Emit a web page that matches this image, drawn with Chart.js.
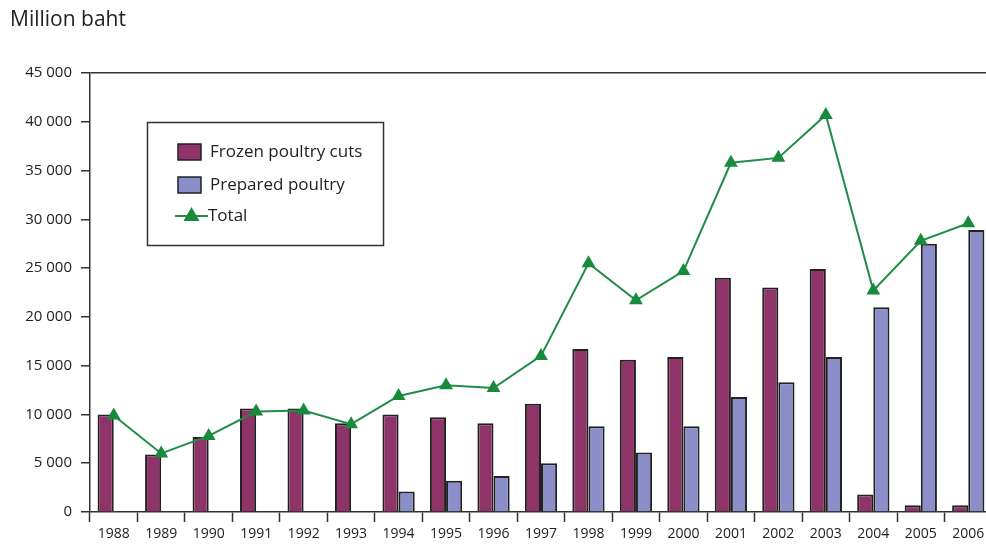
<!DOCTYPE html>
<html>
<head>
<meta charset="utf-8">
<script src="https://cdn.jsdelivr.net/npm/chart.js@4/dist/chart.umd.min.js"></script>
<style>
  html, body { margin: 0; padding: 0; background: #fff; overflow: hidden; }
  #wrap { width: 1000px; height: 548px; }
</style>
</head>
<body>
<div id="wrap"><canvas id="myChart"></canvas></div>
<script>
/* globals Chart:false */

// values, million baht
var years = ['1988', '1989', '1990', '1991', '1992', '1993', '1994', '1995', '1996', '1997',
  '1998', '1999', '2000', '2001', '2002', '2003', '2004', '2005', '2006'];
var frozenCuts = [10000, 5900, 7700, 10600, 10600, 9100, 10000, 9700, 9100, 11100,
  16700, 15600, 15900, 24000, 23000, 24900, 1800, 700, 700];
var preparedPoultry = [0, 0, 0, 0, 0, 0, 2100, 3200, 3700, 5000,
  8800, 6100, 8800, 11800, 13300, 15900, 21000, 27500, 28900];
var totals = [9900, 6000, 7800, 10300, 10400, 9000, 11900, 13000, 12700, 16000,
  25500, 21700, 24700, 35800, 36300, 40700, 22700, 27800, 29600];

var axisColor = '#333';
var textColor = '#222';
var fontFamily = '"Open Sans", sans-serif';

// legend drawn as a boxed panel inside the plot
var boxLegend = {
  id: 'boxLegend',
  afterDraw: function (chart) {
    var ctx = chart.ctx;
    var ds = chart.data.datasets;
    ctx.save();
    ctx.strokeStyle = axisColor;
    ctx.lineWidth = 1.5;
    ctx.strokeRect(147.5, 122.5, 236, 123);

    ctx.font = '17px ' + fontFamily;
    ctx.textBaseline = 'middle';
    ctx.textAlign = 'left';

    var rows = [152, 185, 216];
    for (var i = 0; i < 2; i++) {
      ctx.fillStyle = ds[i].backgroundColor;
      ctx.fillRect(178, rows[i] - 8, 23, 16);
      ctx.strokeStyle = ds[i].borderColor;
      ctx.lineWidth = 1.5;
      ctx.strokeRect(178, rows[i] - 8, 23, 16);
      ctx.fillStyle = textColor;
      ctx.fillText(ds[i].label, 210, rows[i]);
    }

    var y = rows[2];
    ctx.strokeStyle = ds[2].borderColor;
    ctx.lineWidth = 2;
    ctx.beginPath();
    ctx.moveTo(175, y);
    ctx.lineTo(208, y);
    ctx.stroke();
    ctx.fillStyle = ds[2].pointBackgroundColor;
    ctx.beginPath();
    ctx.moveTo(191.5, y - 9);
    ctx.lineTo(199.5, y + 5);
    ctx.lineTo(183.5, y + 5);
    ctx.closePath();
    ctx.fill();
    ctx.fillStyle = textColor;
    ctx.fillText(ds[2].label, 208, y);
    ctx.restore();
  }
};

var ctx = document.getElementById('myChart');
var myChart = new Chart(ctx, {
  type: 'bar',
  data: {
    labels: years,
    datasets: [{
      label: 'Frozen poultry cuts',
      data: frozenCuts,
      backgroundColor: '#8f3468',
      borderColor: '#222',
      borderWidth: 2,
      categoryPercentage: 0.68,
      barPercentage: 1.0,
      order: 1
    }, {
      label: 'Prepared poultry',
      data: preparedPoultry,
      backgroundColor: '#8b8ec8',
      borderColor: '#222',
      borderWidth: 2,
      categoryPercentage: 0.68,
      barPercentage: 1.0,
      order: 1
    }, {
      type: 'line',
      label: 'Total',
      data: totals,
      borderColor: '#218c47',
      borderWidth: 2,
      pointStyle: 'triangle',
      pointRadius: 8,
      pointBackgroundColor: '#178a3c',
      pointBorderColor: '#178a3c',
      pointBorderWidth: 0,
      tension: 0,
      order: 0
    }]
  },
  options: {
    responsive: true,
    maintainAspectRatio: false,
    animation: false,
    layout: { padding: { left: 10, right: 4, top: 0, bottom: 0 } },
    scales: {
      x: {
        offset: true,
        grid: {
          offset: true,
          drawOnChartArea: false,
          drawTicks: true,
          tickLength: 10,
          tickColor: axisColor,
          tickWidth: 1.5
        },
        border: { color: axisColor, width: 1.5 },
        ticks: {
          color: textColor,
          font: { family: fontFamily, size: 14 },
          padding: 4,
          maxRotation: 0,
          autoSkip: false
        },
        afterFit: function (scale) { scale.height = 36; }
      },
      y: {
        min: 0,
        max: 45000,
        grid: {
          color: function (c) { return c.tick && c.tick.value === 45000 ? axisColor : 'transparent'; },
          lineWidth: 1.5,
          tickLength: 9,
          tickColor: axisColor,
          tickWidth: 1.5
        },
        border: { color: axisColor, width: 1.5 },
        ticks: {
          stepSize: 5000,
          color: textColor,
          font: { family: fontFamily, size: 15 },
          padding: 9,
          callback: function (val) {
            return val >= 1000 ? Math.floor(val / 1000) + ' 000' : String(val);
          }
        },
        afterFit: function (scale) { scale.width = 80; }
      }
    },
    plugins: {
      legend: { display: false },
      tooltip: { enabled: false },
      title: {
        display: true,
        text: 'Million baht',
        align: 'start',
        color: textColor,
        font: { family: fontFamily, size: 21, weight: 'normal' },
        padding: { top: 7, bottom: 40.8 }
      }
    }
  },
  plugins: [boxLegend]
});
</script>
</body>
</html>
